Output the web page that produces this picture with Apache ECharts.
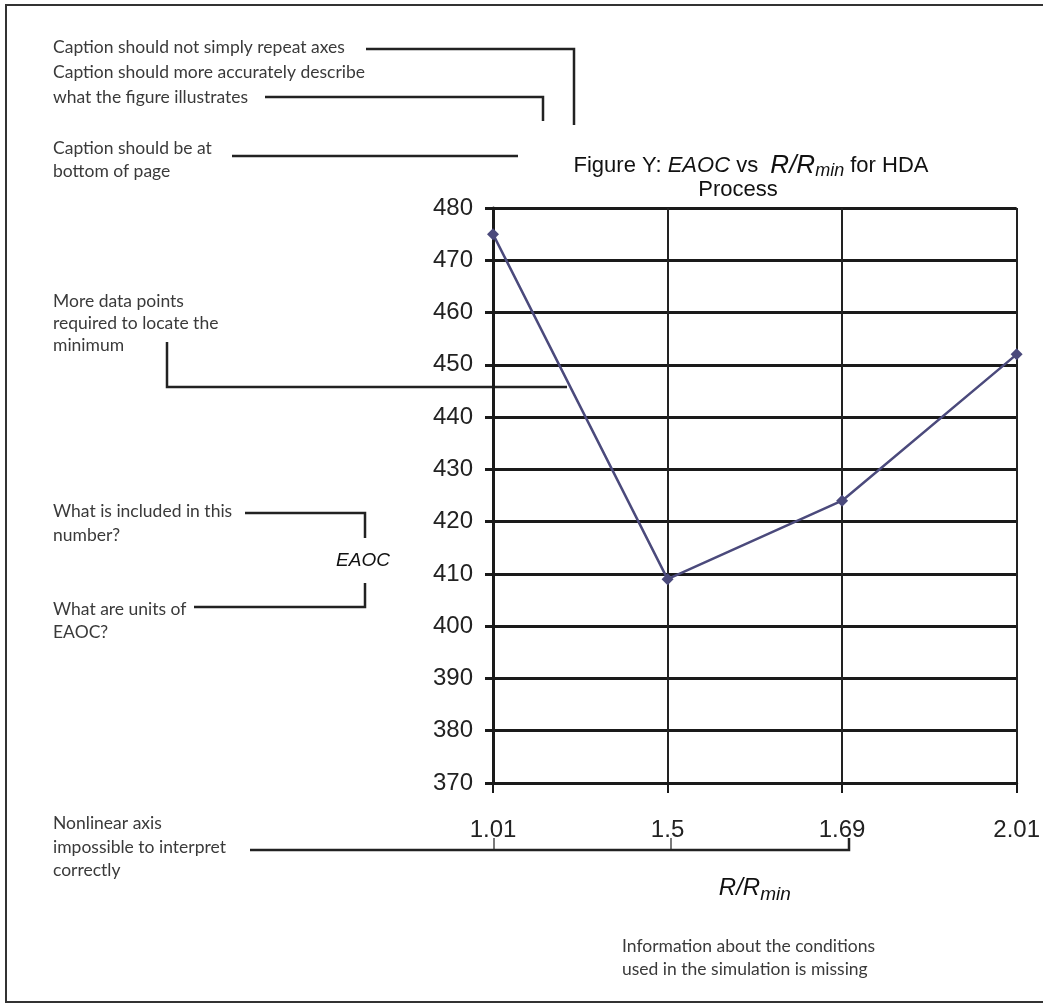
<!DOCTYPE html>
<html><head><meta charset="utf-8">
<script src="https://cdn.jsdelivr.net/npm/echarts@6/dist/echarts.min.js"></script>
<style>html,body{margin:0;padding:0;background:#fff;overflow:hidden}#c{width:1043px;height:1005px}</style>
</head><body><div id="c"></div>
<script>
const categories = ['1.01', '1.5', '1.69', '2.01'];
const eaocValues = [475, 409, 424, 452];
const yMin = 370, yMax = 480, yStep = 10;

const chart = echarts.init(document.getElementById('c'), null, {renderer: 'canvas'});
const AF = 'Lato, "Open Sans", sans-serif';
const NF = '"Liberation Sans", Arial, sans-serif';
const annColor = '#3a3a3a';
const lineColor = '#222';
const annFont = '17.5px ' + AF;

function txt(x, y, s) {
  return {type: 'text', silent: true, style: {x: x, y: y, text: s, font: annFont, fill: annColor, textVerticalAlign: 'middle'}};
}
function pl(points, w) {
  return {type: 'polyline', silent: true, shape: {points: points}, style: {stroke: lineColor, lineWidth: w || 2.5, fill: null}};
}
const tStyle = (size, italic, pad) => ({fontSize: size, fontFamily: NF, fontWeight: 'normal', fontStyle: italic ? 'italic' : 'normal', color: '#111', lineHeight: 26, padding: pad || [0, 0, 0, 0]});

chart.setOption({
  animation: false,
  title: [{
    text: '{n|Figure Y: }{i|EAOC}{n| vs  }{r|R/R}{s|min}{n| for HDA}',
    left: 746, top: 148, textAlign: 'center',
    textStyle: {fontWeight: 'normal', rich: {
      n: tStyle(22, false), i: tStyle(22, true), r: tStyle(26, true), s: tStyle(18, true, [10, 0, 0, 0])
    }}
  }, {
    text: 'Process', left: 733, top: 174, textAlign: 'center',
    textStyle: {fontSize: 22, fontFamily: NF, fontWeight: 'normal', color: '#111'}
  }],
  grid: {left: 493, right: 20, top: 208, bottom: 222},
  xAxis: {
    type: 'category', data: categories, boundaryGap: false,
    axisLine: {lineStyle: {color: '#1a1a1a', width: 3}},
    axisTick: {show: true, length: 10, lineStyle: {color: '#1a1a1a', width: 2}},
    axisLabel: {fontSize: 24, fontFamily: NF, color: '#222', margin: 35},
    splitLine: {show: true, lineStyle: {color: '#222', width: 2}},
    name: '{r|R/R}{s|min}', nameLocation: 'middle', nameGap: 90,
    nameTextStyle: {
      rich: {
        r: {fontSize: 24, fontFamily: NF, fontStyle: 'italic', color: '#111'},
        s: {fontSize: 19, fontFamily: NF, fontStyle: 'italic', color: '#111', padding: [12, 0, 0, 0]}
      }
    }
  },
  yAxis: {
    type: 'value', min: yMin, max: yMax, interval: yStep,
    axisLine: {show: true, lineStyle: {color: '#1a1a1a', width: 3}},
    axisTick: {show: true, length: 8, lineStyle: {color: '#1a1a1a', width: 3}},
    axisLabel: {fontSize: 24, fontFamily: NF, color: '#222', margin: 20},
    splitLine: {show: true, lineStyle: {color: '#1a1a1a', width: 3}}
  },
  series: [{
    type: 'line', data: eaocValues,
    symbol: 'diamond', symbolSize: 12,
    lineStyle: {color: '#4b4a7c', width: 2.5},
    itemStyle: {color: '#4b4a7c'}
  }],
  graphic: [
    {type: 'rect', silent: true, shape: {x: 6, y: 5, width: 1050, height: 997}, style: {stroke: '#333', lineWidth: 2, fill: null}},
    txt(53, 47, 'Caption should not simply repeat axes'),
    txt(53, 72, 'Caption should more accurately describe'),
    txt(53, 97, 'what the figure illustrates'),
    pl([[366, 49], [574, 49], [574, 125]]),
    pl([[265, 97], [543, 97], [543, 121]]),
    txt(53, 148, 'Caption should be at'),
    txt(53, 171, 'bottom of page'),
    pl([[232, 156], [518, 156]]),
    txt(53, 301, 'More data points'),
    txt(53, 323, 'required to locate the'),
    txt(53, 345, 'minimum'),
    pl([[167, 342], [167, 387], [567, 387]]),
    txt(53, 511, 'What is included in this'),
    txt(53, 535, 'number?'),
    pl([[245, 513], [365, 513], [365, 538]]),
    {type: 'text', silent: true, style: {x: 363, y: 561, text: 'EAOC', font: 'italic 19px ' + NF, fill: '#111', textAlign: 'center', textVerticalAlign: 'middle'}},
    pl([[365, 583], [365, 607], [194, 607]]),
    txt(53, 609, 'What are units of'),
    txt(53, 632, 'EAOC?'),
    txt(53, 823, 'Nonlinear axis'),
    txt(53, 847, 'impossible to interpret'),
    txt(53, 870, 'correctly'),
    pl([[250, 850], [849, 850], [849, 838]]),
    pl([[494, 850], [494, 838]], 1.2),
    pl([[671, 850], [671, 838]], 1.2),
    txt(622, 946, 'Information about the conditions'),
    txt(622, 969, 'used in the simulation is missing')
  ]
});
</script></body></html>
